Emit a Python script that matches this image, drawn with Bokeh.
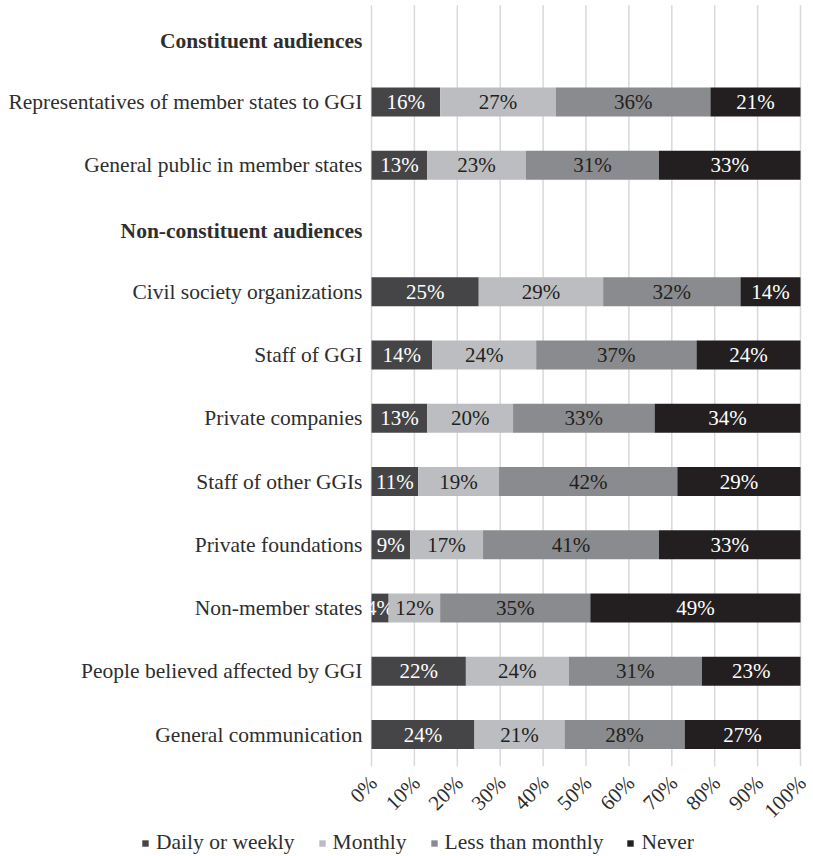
import math
from bokeh.plotting import figure
from bokeh.models import Range1d, Legend, LegendItem, ColumnDataSource
from bokeh.core.properties import value
from bokeh.embed import file_html
from bokeh.resources import INLINE

# ---- data ----
row_order = [
    "Constituent audiences",
    "Representatives of member states to GGI",
    "General public in member states",
    "Non-constituent audiences",
    "Civil society organizations",
    "Staff of GGI",
    "Private companies",
    "Staff of other GGIs",
    "Private foundations",
    "Non-member states",
    "People believed affected by GGI",
    "General communication",
]
header_rows = ["Constituent audiences", "Non-constituent audiences"]
bar_rows = [r for r in row_order if r not in header_rows]

series = ["Daily or weekly", "Monthly", "Less than monthly", "Never"]
daily_or_weekly = [16, 13, 25, 14, 13, 11, 9, 4, 22, 24]
monthly = [27, 23, 29, 24, 20, 19, 17, 12, 24, 21]
less_than_monthly = [36, 31, 32, 37, 33, 42, 41, 35, 31, 28]
never = [21, 33, 14, 24, 34, 29, 33, 49, 23, 27]

x_ticks = [0, 10, 20, 30, 40, 50, 60, 70, 80, 90, 100]
x_tick_labels = [f"{t}%" for t in x_ticks]

# ---- style ----
colors = ["#454547", "#bcbdc0", "#8a8b8e", "#231f20"]
label_colors = ["white", "#231f20", "#231f20", "white"]
FONT = "Liberation Serif"
TXT = "#2e2e2e"

W, H = 813, 856
X0_PX, X1_PX = 371, 800          # pixel position of 0% and 100%
ROW0_PX, ROW_STEP = 38.25, 63.25  # pixel centre of first row, row spacing
ppu = X1_PX - X0_PX
x_range = Range1d(-X0_PX / ppu, (W - X0_PX) / ppu)
y_range = Range1d((H - ROW0_PX) / ROW_STEP, -ROW0_PX / ROW_STEP)

p = figure(width=W, height=H, output_backend="svg", toolbar_location=None,
           x_range=x_range, y_range=y_range,
           min_border_left=0, min_border_right=0, min_border_top=0, min_border_bottom=0)
p.outline_line_color = None
p.background_fill_color = "white"
p.axis.visible = False
p.grid.visible = False

n_rows = len(row_order)
tick_x = [t / 100 for t in x_ticks]

# gridlines
p.segment(x0=tick_x, x1=tick_x, y0=[-0.53] * len(tick_x), y1=[n_rows - 0.5] * len(tick_x),
          line_color="#d9d9d9", line_width=1.5)

# tick labels (rotated)
p.text(x=tick_x, y=[n_rows - 0.5 + 0.13] * len(tick_x), text=x_tick_labels,
       angle=math.pi / 4, text_align="right", text_baseline="middle", x_offset=2, y_offset=5,
       text_font=value(FONT), text_font_size="21px", text_color=TXT)

ys = [row_order.index(r) for r in bar_rows]
vals = [daily_or_weekly, monthly, less_than_monthly, never]
totals = [sum(v[i] for v in vals) for i in range(len(bar_rows))]

left = [0.0] * len(bar_rows)
items = []
for k, name in enumerate(series):
    share = [vals[k][i] / totals[i] for i in range(len(bar_rows))]
    right = [left[i] + share[i] for i in range(len(bar_rows))]
    src = ColumnDataSource(dict(y=ys, left=list(left), right=right,
                                mid=[(left[i] + right[i]) / 2 for i in range(len(bar_rows))],
                                lab=[f"{v}%" for v in vals[k]]))
    r = p.hbar(y="y", left="left", right="right", height=0.455, source=src,
               fill_color=colors[k], line_color=None)
    p.text(x="mid", y="y", text="lab", source=src, text_align="center", text_baseline="middle",
           text_font=value(FONT), text_font_size="21px", text_color=label_colors[k])
    items.append(LegendItem(label=name, renderers=[r]))
    left = right

# category labels
cat_src = ColumnDataSource(dict(x=[-0.021] * len(bar_rows), y=ys, t=bar_rows))
p.text(x="x", y="y", text="t", source=cat_src, text_align="right", text_baseline="middle",
       text_font=value(FONT), text_font_size="21.5px", text_color=TXT)
hdr_src = ColumnDataSource(dict(x=[-0.021] * len(header_rows),
                                y=[row_order.index(h) for h in header_rows], t=header_rows))
p.text(x="x", y="y", text="t", source=hdr_src, text_align="right", text_baseline="middle",
       y_offset=2,
       text_font=value(FONT), text_font_size="21.5px", text_font_style="bold", text_color=TXT)

legend = Legend(items=items, orientation="horizontal", location=(141, 1),
                glyph_width=8, glyph_height=8, label_standoff=7, spacing=23,
                label_text_font=FONT, label_text_font_size="21.5px", label_text_color=TXT,
                border_line_color=None, background_fill_alpha=0, padding=2, margin=0)
p.add_layout(legend, "center")

open("out.html", "w").write(file_html(p, INLINE))
